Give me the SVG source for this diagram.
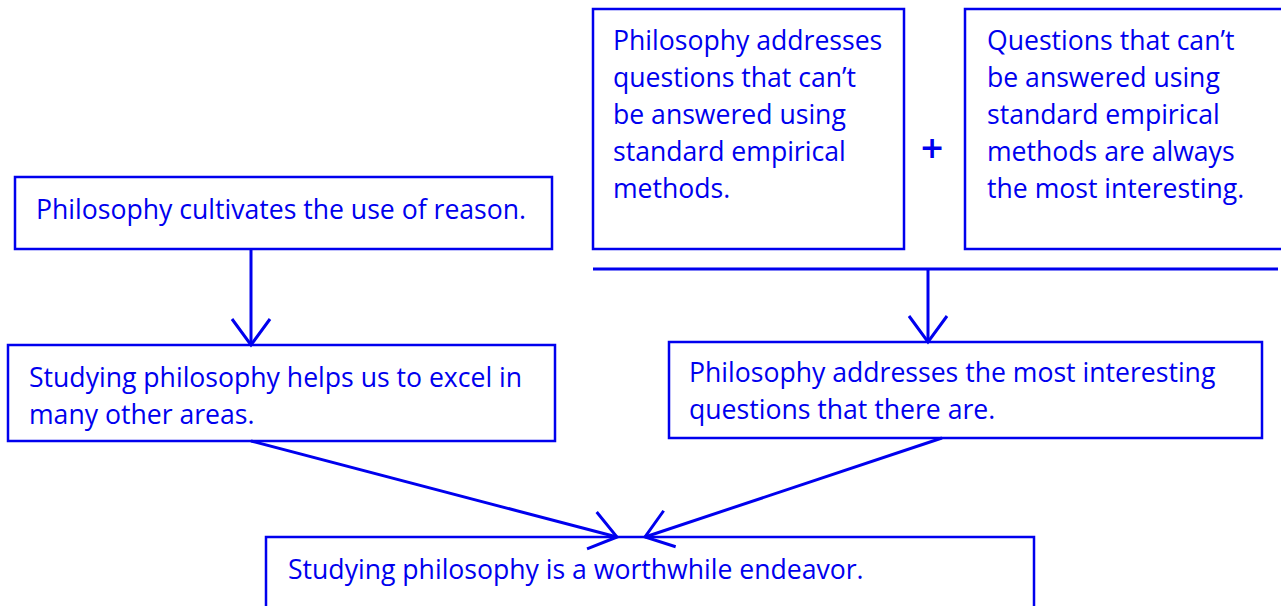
<svg xmlns="http://www.w3.org/2000/svg" width="1281" height="606" viewBox="0 0 1281 606">
<style>
.box{fill:#fff;stroke:#0000ee;stroke-width:2.5}
.t{font-family:"Open Sans","DejaVu Sans",sans-serif;font-size:26.6px;fill:#0000ee}
.c{stroke:#0000ee;stroke-width:3;fill:none}
</style>
<defs>
<marker id="ah" markerWidth="34" markerHeight="44" refX="28" refY="21" orient="auto" markerUnits="userSpaceOnUse" viewBox="0 0 34 42">
<path d="M2,2 L28,21 L2,40" fill="none" stroke="#0000ee" stroke-width="3"/>
</marker>
</defs>
<rect width="1281" height="606" fill="#fff"/>
<g id="nodeA">
<rect class="box" x="15" y="177" width="537" height="72"/>
<text class="t" x="36" y="219">Philosophy cultivates the use of reason.</text>
</g>
<g id="nodeB">
<rect class="box" x="8" y="345" width="547" height="96"/>
<text class="t" x="29" y="387">Studying philosophy helps us to excel in</text>
<text class="t" x="29" y="424">many other areas.</text>
</g>
<g id="nodeC">
<rect class="box" x="593" y="9" width="311" height="240"/>
<text class="t" x="613" y="50">Philosophy addresses</text>
<text class="t" x="613" y="87">questions that can’t</text>
<text class="t" x="613" y="124">be answered using</text>
<text class="t" x="613" y="161">standard empirical</text>
<text class="t" x="613" y="198">methods.</text>
</g>
<g id="plus">
<text x="932" y="158" text-anchor="middle" style="font-family:'DejaVu Sans',sans-serif;font-size:30px;font-weight:bold;fill:#0000ee">+</text>
</g>
<g id="nodeD">
<rect class="box" x="965" y="9" width="320" height="240"/>
<text class="t" x="987" y="50">Questions that can’t</text>
<text class="t" x="987" y="87">be answered using</text>
<text class="t" x="987" y="124">standard empirical</text>
<text class="t" x="987" y="161">methods are always</text>
<text class="t" x="987" y="198">the most interesting.</text>
</g>
<g id="nodeE">
<rect class="box" x="669" y="342" width="593" height="96"/>
<text class="t" x="689" y="382">Philosophy addresses the most interesting</text>
<text class="t" x="689" y="419">questions that there are.</text>
</g>
<g id="nodeF">
<rect class="box" x="266" y="537" width="768" height="80"/>
<text class="t" x="288" y="579">Studying philosophy is a worthwhile endeavor.</text>
</g>
<g id="connectors">
<line class="c" x1="251" y1="249" x2="251" y2="345" marker-end="url(#ah)"/>
<line class="c" x1="593" y1="269" x2="1278" y2="269"/>
<line class="c" x1="928" y1="269" x2="928" y2="342" marker-end="url(#ah)"/>
<line class="c" x1="251" y1="441" x2="617" y2="537" marker-end="url(#ah)"/>
<line class="c" x1="942" y1="438" x2="645" y2="537" marker-end="url(#ah)"/>
</g>
</svg>
